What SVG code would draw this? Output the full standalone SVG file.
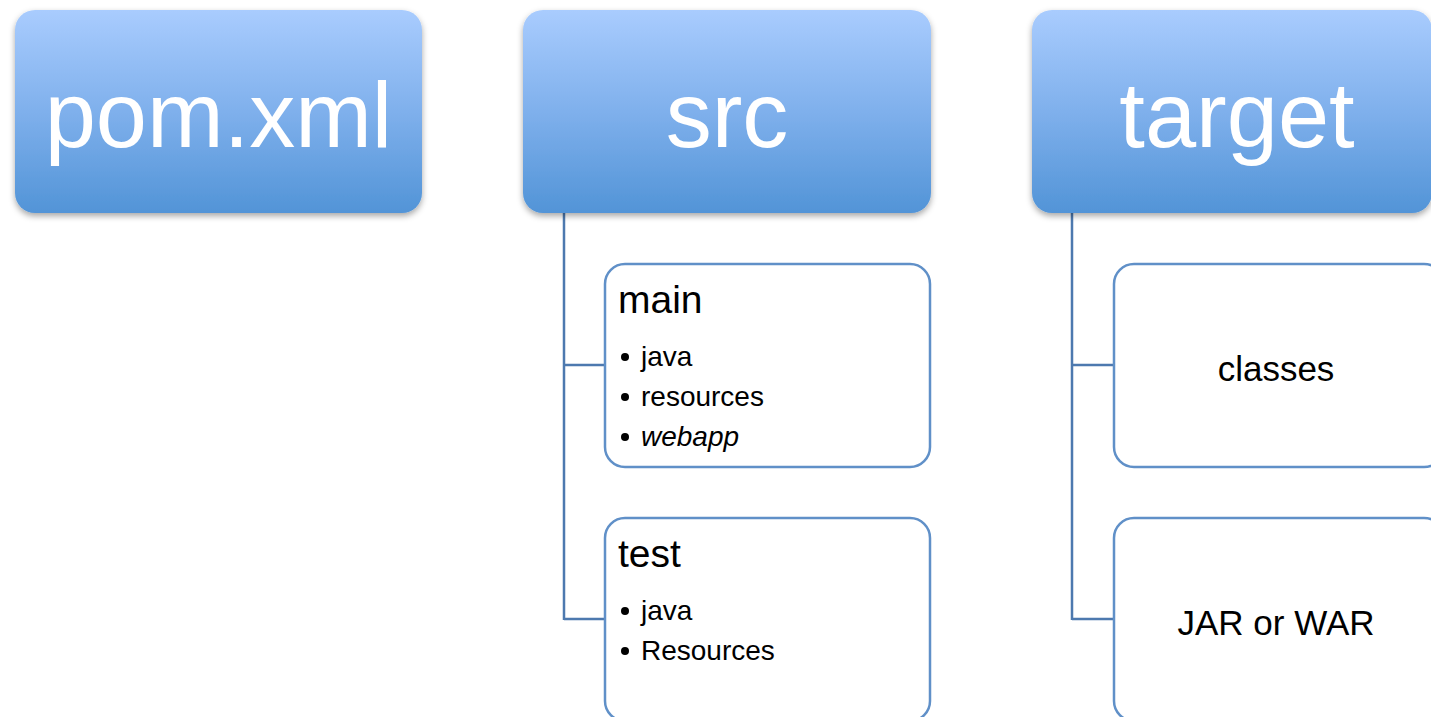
<svg xmlns="http://www.w3.org/2000/svg" width="1431" height="717" viewBox="0 0 1431 717">
<defs>
<linearGradient id="blue" x1="0" y1="0" x2="0" y2="1">
<stop offset="0" stop-color="#A9CCFE"/>
<stop offset="0.5" stop-color="#7FB0EC"/>
<stop offset="1" stop-color="#5294D7"/>
</linearGradient>
<filter id="sh" x="-10%" y="-10%" width="120%" height="130%">
<feDropShadow dx="0" dy="3" stdDeviation="3" flood-color="#000" flood-opacity="0.35"/>
</filter>
<style>
.top{fill:url(#blue);filter:url(#sh);}
.topt{font-family:"Liberation Sans",Arial,sans-serif;font-size:92px;fill:#fff;text-anchor:middle;}
.child{fill:#fff;stroke:#6090C8;stroke-width:2.5;}
.h{font-family:"Liberation Sans",Arial,sans-serif;font-size:39px;fill:#000;}
.b{font-family:"Liberation Sans",Arial,sans-serif;font-size:28px;fill:#000;}
.dot{fill:#000;}
.c{font-family:"Liberation Sans",Arial,sans-serif;font-size:35px;fill:#000;text-anchor:middle;}
.conn{fill:none;stroke:#4D79AF;stroke-width:2.5;}
</style>
</defs>
<rect width="1431" height="717" fill="#fff"/>
<g id="connectors">
<path class="conn" d="M564,212 V620 M564,365 H605 M564,619 H605"/>
<path class="conn" d="M1072,212 V620 M1072,365 H1114 M1072,619 H1114"/>
</g>
<g id="pom">
<rect class="top" x="15" y="10" width="407" height="203" rx="20"/>
<text class="topt" x="218.5" y="147">pom.xml</text>
</g>
<g id="src">
<rect class="top" x="523" y="10" width="408" height="203" rx="20"/>
<text class="topt" x="727" y="147">src</text>
</g>
<g id="target">
<rect class="top" x="1032" y="10" width="400" height="203" rx="20"/>
<text class="topt" x="1237" y="147">target</text>
</g>
<g id="main">
<rect class="child" x="605" y="264" width="325" height="203" rx="20"/>
<text class="h" x="618" y="313">main</text>
<circle class="dot" cx="625" cy="357" r="4"/>
<circle class="dot" cx="625" cy="397" r="4"/>
<circle class="dot" cx="625" cy="437" r="4"/>
<text class="b" x="641" y="366">java</text>
<text class="b" x="641" y="406">resources</text>
<text class="b" x="641" y="446" font-style="italic">webapp</text>
</g>
<g id="test">
<rect class="child" x="605" y="518" width="325" height="203" rx="20"/>
<text class="h" x="618" y="567">test</text>
<circle class="dot" cx="625" cy="611" r="4"/>
<circle class="dot" cx="625" cy="651" r="4"/>
<text class="b" x="641" y="620">java</text>
<text class="b" x="641" y="660">Resources</text>
</g>
<g id="classes">
<rect class="child" x="1114" y="264" width="330" height="203" rx="20"/>
<text class="c" x="1276" y="381">classes</text>
</g>
<g id="jarwar">
<rect class="child" x="1114" y="518" width="330" height="203" rx="20"/>
<text class="c" x="1276" y="635">JAR or WAR</text>
</g>
</svg>
